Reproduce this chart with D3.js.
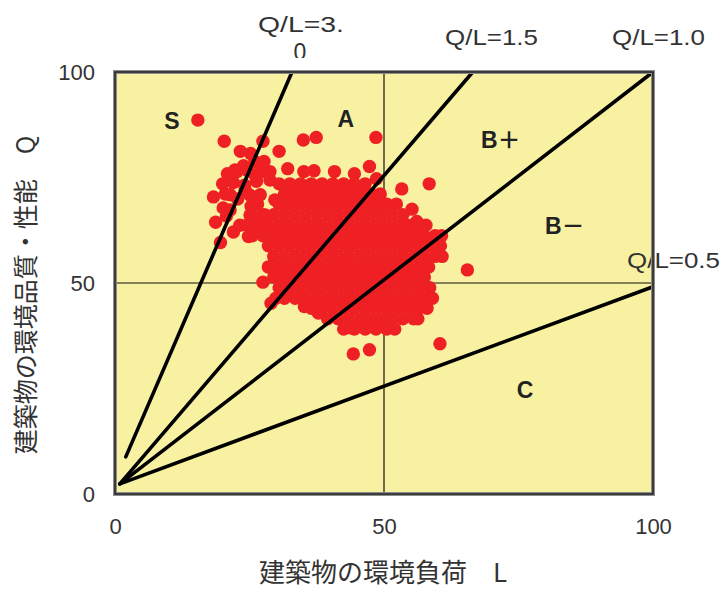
<!DOCTYPE html>
<html><head><meta charset="utf-8">
<script src="https://cdn.jsdelivr.net/npm/d3@7"></script>
<style>body{margin:0;background:#fff}svg{display:block}</style>
</head><body><svg id="c" width="724" height="591"></svg>
<script>
// ---- data ----
const xTicks = [0, 50, 100];
const yTicks = [0, 50, 100];
const refLineNames = ["Q/L=3.0", "Q/L=1.5", "Q/L=1.0", "Q/L=0.5"];
const refLineL1 = [2.0, 0.9, 0.9, 0.9];
const refLineQ1 = [8.8, 2.4, 2.4, 2.4];
const refLineL2 = [32.9, 66.5, 100, 100];
const refLineQ2 = [100, 100, 100, 49.1];
const zoneNames = ["S", "A", "B＋", "B－", "C"];
const zoneL = [10.6, 42.9, 71.7, 83.6, 76.2];
const zoneQ = [88.4, 88.9, 83.9, 63.5, 24.6];
const buildingsL = [
 15.4,20.3,35.0,37.4,48.5,
 23.3,25.2,27.5,30.5, 23.9,26.0,27.7,32.1, 20.9,22.7,24.7,26.9,28.8, 20.0,22.0,24.1,26.3,
 22.8,25.1,20.5, 18.3,25.3,20.1, 27.1,18.7,20.7, 19.6,24.8,28.4,22.0,
 22.3,26.0,28.8,24.2,27.0,21.4,29.7,25.1,27.9,23.2,26.0,21.4,
 35.1,37.0,40.8,44.5,47.3,48.6,
 30.5,32.5,34.5,36.5,38.5,40.5,42.5,44.5,46.5,
 31.5,33.5,35.5,37.5,39.5,41.5,43.5,45.5,47.5,49.3,53.3,58.4,
 26.5,30.5,32.5,34.5,36.5,38.5,40.5,42.5,44.5,46.5,48.5,50.5,52.3,
 25.5,27.5,29.5,31.5,33.5,35.5,37.5,39.5,41.5,43.5,45.5,47.5,49.5,51.5,53.5,55.2,56.1,
 24.5,26.5,28.5,30.5,32.5,34.5,36.5,38.5,40.5,42.5,44.5,46.5,48.5,50.5,52.5,54.5,56.5,57.8,
 25.5,27.5,29.5,31.5,33.5,35.5,37.5,39.5,41.5,43.5,45.5,47.5,49.5,51.5,53.5,55.5,57.5,59.5,60.7,
 28.5,30.5,32.5,34.5,36.5,38.5,40.5,42.5,44.5,46.5,48.5,50.5,52.5,54.5,56.5,58.5,60.5,
 29.5,31.5,33.5,35.5,37.5,39.5,41.5,43.5,45.5,47.5,49.5,51.5,53.5,55.5,57.5,59.5,60.8,
 28.5,30.5,32.5,34.5,36.5,38.5,40.5,42.5,44.5,46.5,48.5,50.5,52.5,54.5,56.5,58.3,65.5,
 29.5,31.5,33.5,35.5,37.5,39.5,41.5,43.5,45.5,47.5,49.5,51.5,53.5,55.5,57.5,27.5,
 30.5,32.5,34.5,36.5,38.5,40.5,42.5,44.5,46.5,48.5,50.5,52.5,54.5,56.5,58.5,
 31.5,33.5,35.5,37.5,39.5,41.5,43.5,45.5,47.5,49.5,51.5,53.5,55.5,57.5,59.0,29.0,29.9,
 36.5,38.5,40.5,42.5,44.5,46.5,48.5,50.5,52.5,54.5,56.5,58.0,35.2,37.8,
 39.5,41.5,43.5,45.5,47.5,49.5,51.5,53.5,55.5,56.3,
 42.5,44.5,46.5,48.5,50.5,52.0,43.6,
 44.3,47.3,60.4
];
const buildingsQ = [
 88.6,83.6,83.9,84.5,84.5,
 81.2,80.7,83.6,81.2, 77.8,78.8,78.8,77.1, 75.9,76.4,76.6,76.1,76.4, 73.5,73.8,73.2,74.1,
 69.9,70.8,71.1, 70.4,68.2,67.8, 65.1,64.4,65.9, 59.6,61.0,62.0,62.1,
 76.8,75.6,74.4,72.0,70.9,70.9,69.7,66.1,66.1,63.7,62.6,67.3,
 76.4,76.6,76.4,75.9,77.6,74.7,
 73.5,73.5,73.5,73.5,73.5,73.5,73.5,73.5,73.5,
 71.1,71.1,71.1,71.1,71.1,71.1,71.1,71.1,71.1,71.1,72.3,73.5,
 68.7,68.7,68.7,68.7,68.7,68.7,68.7,68.7,68.7,68.7,68.7,68.7,68.7,
 66.2,66.2,66.2,66.2,66.2,66.2,66.2,66.2,66.2,66.2,66.2,66.2,66.2,66.2,66.2,67.5,64.6,
 63.7,63.7,63.7,63.7,63.7,63.7,63.7,63.7,63.7,63.7,63.7,63.7,63.7,63.7,63.7,63.7,63.7,63.7,
 61.2,61.2,61.2,61.2,61.2,61.2,61.2,61.2,61.2,61.2,61.2,61.2,61.2,61.2,61.2,61.2,61.2,61.2,61.2,
 58.8,58.8,58.8,58.8,58.8,58.8,58.8,58.8,58.8,58.8,58.8,58.8,58.8,58.8,58.8,58.8,58.8,
 56.3,56.3,56.3,56.3,56.3,56.3,56.3,56.3,56.3,56.3,56.3,56.3,56.3,56.3,56.3,56.3,56.3,
 53.8,53.8,53.8,53.8,53.8,53.8,53.8,53.8,53.8,53.8,53.8,53.8,53.8,53.8,53.8,53.8,53.1,
 51.4,51.4,51.4,51.4,51.4,51.4,51.4,51.4,51.4,51.4,51.4,51.4,51.4,51.4,51.4,50.2,
 48.9,48.9,48.9,48.9,48.9,48.9,48.9,48.9,48.9,48.9,48.9,48.9,48.9,48.9,48.9,
 46.4,46.4,46.4,46.4,46.4,46.4,46.4,46.4,46.4,46.4,46.4,46.4,46.4,46.4,46.4,45.2,46.4,
 44.0,44.0,44.0,44.0,44.0,44.0,44.0,44.0,44.0,44.0,44.0,44.0,44.4,42.9,
 41.5,41.5,41.5,41.5,41.5,41.5,41.5,41.5,41.5,41.5,
 39.1,39.1,39.1,39.1,39.1,39.1,39.4,
 33.2,34.2,35.6
];

// ---- chart ----
const svg = d3.select("#c");
const X0 = 115, X1 = 653, Y0 = 494, Y1 = 72;
const x = d3.scaleLinear().domain([0, 100]).range([X0, X1]);
const y = d3.scaleLinear().domain([0, 100]).range([Y0, Y1]);

svg.append("rect").attr("x", X0).attr("y", Y1).attr("width", X1 - X0).attr("height", Y0 - Y1)
  .attr("fill", "#F9F1A2");

// mid grid lines
svg.append("line").attr("x1", x(50)).attr("x2", x(50)).attr("y1", y(0)).attr("y2", y(100))
  .attr("stroke", "#111").attr("stroke-width", 1.2);
svg.append("line").attr("x1", x(0)).attr("x2", x(100)).attr("y1", y(50)).attr("y2", y(50))
  .attr("stroke", "#111").attr("stroke-width", 1.2);

// points
const pts = buildingsL.map((l, i) => [l, buildingsQ[i]]);
svg.append("g").selectAll("circle").data(pts).join("circle")
  .attr("cx", d => x(d[0])).attr("cy", d => y(d[1])).attr("r", 6.7)
  .attr("fill", "#EE2024");

// ratio lines
svg.append("g").selectAll("line").data(refLineNames).join("line")
  .attr("x1", (d, i) => x(refLineL1[i])).attr("y1", (d, i) => y(refLineQ1[i]))
  .attr("x2", (d, i) => x(refLineL2[i])).attr("y2", (d, i) => y(refLineQ2[i]))
  .attr("stroke", "#000").attr("stroke-width", 3.6).attr("stroke-linecap", "round");

// zone labels
svg.append("g").selectAll("text").data(zoneNames).join("text")
  .attr("x", (d, i) => x(zoneL[i])).attr("y", (d, i) => y(zoneQ[i]))
  .attr("text-anchor", "middle").attr("dominant-baseline", "central")
  .attr("font-family", "'Liberation Sans', 'Noto Sans CJK JP', sans-serif")
  .attr("font-weight", "bold").attr("font-size", 23).attr("fill", "#222")
  .text(d => d);

// ratio line labels
const lf = "'Liberation Sans', Arial, sans-serif";
function lab(t, xx, yy, w) {
  svg.append("text").attr("x", xx).attr("y", yy).attr("font-family", lf).attr("font-size", 22)
    .attr("fill", "#333").attr("textLength", w).attr("lengthAdjust", "spacingAndGlyphs").text(t);
}
lab("Q/L=3.", 258, 32, 86);
lab("Q/L=1.5", 445, 45, 93);
lab("Q/L=1.0", 612, 45, 93);
lab("Q/L=0.5", 627, 268, 93);
svg.append("clipPath").attr("id", "cp").append("rect").attr("x", 280).attr("y", 30).attr("width", 40).attr("height", 28);
svg.append("text").attr("x", 300).attr("y", 60).attr("text-anchor", "middle").attr("font-family", lf)
  .attr("font-size", 23).attr("fill", "#333").attr("clip-path", "url(#cp)").text("0");

// frame
svg.append("rect").attr("x", X0).attr("y", Y1).attr("width", X1 - X0).attr("height", Y0 - Y1)
  .attr("fill", "none").attr("stroke", "#8c8c8c").attr("stroke-width", 4);
svg.append("rect").attr("x", X0).attr("y", Y1).attr("width", X1 - X0).attr("height", Y0 - Y1)
  .attr("fill", "none").attr("stroke", "#111").attr("stroke-width", 1.3);

// axes (tick labels only)
const xa = svg.append("g").attr("transform", `translate(0,${Y0})`)
  .call(d3.axisBottom(x).tickValues(xTicks).tickSize(0).tickPadding(24));
const ya = svg.append("g").attr("transform", `translate(${X0},0)`)
  .call(d3.axisLeft(y).tickValues(yTicks).tickSize(0).tickPadding(20));
[xa, ya].forEach(a => {
  a.select(".domain").remove();
  a.selectAll("text").attr("font-family", lf).attr("font-size", 22).attr("fill", "#333");
});

// axis titles
svg.append("text").attr("x", 383).attr("y", 582).attr("text-anchor", "middle")
  .attr("font-family", "'Noto Sans CJK JP', sans-serif").attr("font-size", 26).attr("fill", "#333")
  .text("建築物の環境負荷　L");
svg.append("text").attr("transform", "translate(35,295) rotate(-90)").attr("text-anchor", "middle")
  .attr("font-family", "'Noto Sans CJK JP', sans-serif").attr("font-size", 25).attr("fill", "#333")
  .text("建築物の環境品質・性能　Q");
</script></body></html>
